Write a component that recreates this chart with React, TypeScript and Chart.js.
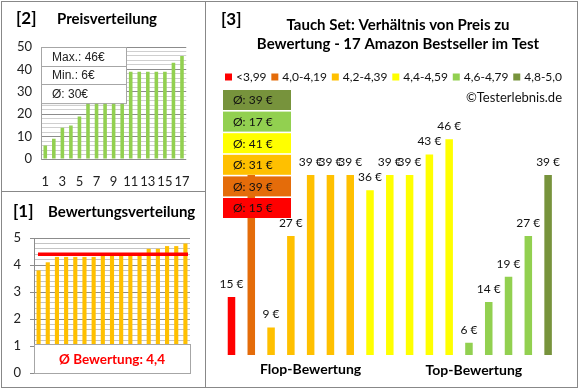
import React, { useEffect, useRef } from 'react';
import { Chart, registerables } from 'chart.js';
Chart.register(...registerables);

// ---------- data ----------
const PRODUCT_NUMBERS = ['1', '2', '3', '4', '5', '6', '7', '8', '9', '10', '11', '12', '13', '14', '15', '16', '17'];
// prices in the order of chart [3] (grouped by rating, ascending price)
const PRICES = [15, 39, 9, 27, 39, 39, 39, 36, 39, 39, 43, 46, 6, 14, 19, 27, 39];
// ratings in the same order
const RATINGS = [3.8, 4.1, 4.3, 4.3, 4.3, 4.3, 4.3, 4.4, 4.4, 4.4, 4.4, 4.4, 4.6, 4.6, 4.7, 4.7, 4.8];
const GROUP_LABELS = ['<3,99', '4,0-4,19', '4,2-4,39', '4,4-4,59', '4,6-4,79', '4,8-5,0'];
const GROUP_BOUNDS = [4.0, 4.2, 4.4, 4.6, 4.8];
const GROUP_COLORS = ['#FF0000', '#E46C0A', '#FFC000', '#FFFF00', '#92D050', '#77933C'];
const PRICE_TICK_LABELS = [0, 10, 20, 30, 40, 50];
const RATING_TICK_LABELS = [0, 1, 2, 3, 4, 5];
const FLOP_LABEL = 'Flop-Bewertung';
const TOP_LABEL = 'Top-Bewertung';

const FONT = 'Lato, "Liberation Sans", sans-serif';
const BOX_FONT = '"Liberation Sans", Arial, sans-serif';
const FRAME = '#888888';

const groupOf = (r: number) => GROUP_BOUNDS.filter((b) => r >= b - 1e-9).length;
const sortedPrices = [...PRICES].sort((a, b) => a - b);
const sortedRatings = [...RATINGS].sort((a, b) => a - b);
const mean = (a: number[]) => a.reduce((s, v) => s + v, 0) / a.length;
const isNear = (v: number, list: number[]) => list.some((t) => Math.abs(t - v) < 1e-6);

export default function App() {
  const refA = useRef<HTMLCanvasElement>(null);
  const refB = useRef<HTMLCanvasElement>(null);
  const refC = useRef<HTMLCanvasElement>(null);

  useEffect(() => {
    document.body.style.margin = '0';
    const charts: Chart[] = [];

    // ---------- [2] Preisverteilung ----------
    const maxP = Math.max(...PRICES);
    const minP = Math.min(...PRICES);
    const avgP = Math.round(mean(PRICES));
    const pluginA = {
      id: 'pA',
      afterDatasetsDraw(chart: any) {
        const c = chart.ctx;
        const { left, top } = chart.chartArea;
        const bw = 85;
        const rowH = 18.7;
        c.save();
        c.fillStyle = '#fff';
        c.fillRect(left, top, bw, rowH * 3);
        c.strokeStyle = '#a6a6a6';
        c.lineWidth = 1;
        c.strokeRect(left + 0.5, top + 0.5, bw, rowH * 3);
        c.beginPath();
        for (let i = 1; i < 3; i++) {
          c.moveTo(left, Math.round(top + rowH * i) + 0.5);
          c.lineTo(left + bw, Math.round(top + rowH * i) + 0.5);
        }
        c.stroke();
        c.fillStyle = '#222';
        c.font = `12px ${BOX_FONT}`;
        c.textBaseline = 'middle';
        const texts = [`Max.: ${maxP}€`, `Min.: ${minP}€`, `Ø: ${avgP}€`];
        texts.forEach((t, i) => c.fillText(t, left + 11, top + rowH * (i + 0.5) + 1));
        c.restore();
      },
      afterDraw(chart: any) {
        const c = chart.ctx;
        c.save();
        c.fillStyle = '#000';
        c.textBaseline = 'middle';
        c.font = `bold 17px ${FONT}`;
        c.fillText('[2]', 16, 19);
        c.font = `bold 15px ${FONT}`;
        c.fillText('Preisverteilung', 57, 19);
        c.restore();
      },
    };
    charts.push(
      new Chart(refA.current!, {
        type: 'bar',
        data: {
          labels: PRODUCT_NUMBERS,
          datasets: [{ data: sortedPrices, backgroundColor: '#92D050', barPercentage: 0.42, categoryPercentage: 1 }],
        },
        options: {
          animation: false,
          responsive: false,
          maintainAspectRatio: false,
          layout: { padding: { left: 0, top: 47, right: 16, bottom: 0 } },
          plugins: { legend: { display: false }, tooltip: { enabled: false } },
          scales: {
            x: {
              grid: { display: false, drawTicks: false },
              border: { display: false },
              ticks: {
                autoSkip: false,
                maxRotation: 0,
                padding: 15,
                font: { family: FONT, size: 13 },
                color: '#222',
                callback: (_v: any, i: number) => (i % 2 === 0 ? PRODUCT_NUMBERS[i] : ''),
              },
              afterFit: (s: any) => {
                s.height = 32;
              },
            },
            y: {
              min: 0,
              max: 50,
              ticks: {
                stepSize: 2,
                autoSkip: false,
                padding: 9,
                font: { family: FONT, size: 13 },
                color: '#222',
                callback: (v: any) => (isNear(Number(v), PRICE_TICK_LABELS) ? String(Math.round(Number(v))) : ''),
              },
              grid: {
                drawTicks: false,
                color: (ctx: any) => (isNear(ctx.tick.value, PRICE_TICK_LABELS) ? '#8c8c8c' : '#cfcfcf'),
              },
              border: { display: true, color: '#a0a0a0' },
              afterFit: (s: any) => {
                s.width = 41;
              },
            },
          },
        },
        plugins: [pluginA],
      } as any)
    );

    // ---------- [1] Bewertungsverteilung ----------
    const avgR = mean(RATINGS);
    const avgRText = avgR.toFixed(1).replace('.', ',');
    const pluginB = {
      id: 'pB',
      afterDatasetsDraw(chart: any) {
        const c = chart.ctx;
        const { left, right } = chart.chartArea;
        const y = chart.scales.y;
        c.save();
        const ya = y.getPixelForValue(avgR);
        c.strokeStyle = '#FF0000';
        c.lineWidth = 3.5;
        c.beginPath();
        c.moveTo(left + 4, ya);
        c.lineTo(right - 2, ya);
        c.stroke();
        const bt = Math.round(y.getPixelForValue(1)) - 2;
        const bb = Math.round(y.getPixelForValue(0));
        c.fillStyle = '#fff';
        c.fillRect(left, bt, right - left, bb - bt);
        c.strokeStyle = '#a6a6a6';
        c.lineWidth = 1;
        c.strokeRect(left + 0.5, bt + 0.5, right - left, bb - bt);
        c.fillStyle = '#FF0000';
        c.font = `bold 13.5px ${FONT}`;
        c.textAlign = 'center';
        c.textBaseline = 'middle';
        c.fillText(`Ø Bewertung: ${avgRText}`, (left + right) / 2, (bt + bb) / 2 + 1);
        c.restore();
      },
      afterDraw(chart: any) {
        const c = chart.ctx;
        c.save();
        c.fillStyle = '#000';
        c.textBaseline = 'middle';
        c.font = `bold 17px ${FONT}`;
        c.fillText('[1]', 13, 21);
        c.font = `bold 15px ${FONT}`;
        c.fillText('Bewertungsverteilung', 48, 21);
        c.restore();
      },
    };
    charts.push(
      new Chart(refB.current!, {
        type: 'bar',
        data: {
          labels: PRODUCT_NUMBERS,
          datasets: [{ data: sortedRatings, backgroundColor: '#FFC000', barPercentage: 0.45, categoryPercentage: 1 }],
        },
        options: {
          animation: false,
          responsive: false,
          maintainAspectRatio: false,
          layout: { padding: { left: 0, top: 47, right: 15, bottom: 17 } },
          plugins: { legend: { display: false }, tooltip: { enabled: false } },
          scales: {
            x: { display: false },
            y: {
              min: 0,
              max: 5,
              ticks: {
                stepSize: 0.2,
                autoSkip: false,
                padding: 9,
                font: { family: FONT, size: 13 },
                color: '#222',
                callback: (v: any) => (isNear(Number(v), RATING_TICK_LABELS) ? String(Math.round(Number(v))) : ''),
              },
              grid: {
                drawTicks: true,
                tickLength: 4,
                tickColor: (ctx: any) => (isNear(ctx.tick.value, RATING_TICK_LABELS) ? '#8c8c8c' : 'rgba(0,0,0,0)'),
                color: (ctx: any) => (isNear(ctx.tick.value, RATING_TICK_LABELS) ? '#8c8c8c' : '#c4c4c4'),
              },
              border: { display: true, color: '#8c8c8c' },
              afterFit: (s: any) => {
                s.width = 34;
              },
            },
          },
        },
        plugins: [pluginB],
      } as any)
    );

    // ---------- [3] Verhältnis Preis / Bewertung ----------
    const groups = RATINGS.map(groupOf);
    const groupAvgs = GROUP_LABELS.map((_, g) => {
      const vals = PRICES.filter((_, i) => groups[i] === g);
      return vals.length ? Math.round(mean(vals)) : 0;
    });
    const pluginC = {
      id: 'pC',
      afterDatasetsDraw(chart: any) {
        const c = chart.ctx;
        const meta = chart.getDatasetMeta(0);
        c.save();
        c.fillStyle = '#111';
        c.font = `12px ${FONT}`;
        c.textAlign = 'center';
        c.textBaseline = 'middle';
        meta.data.forEach((el: any, i: number) => {
          c.fillText(`${PRICES[i]} €`, el.x, el.y - 13);
        });
        // axis group labels
        c.font = `bold 14px ${FONT}`;
        c.fillStyle = '#000';
        const xFlop = meta.data[4].x;
        const xTop = meta.data[12].x + 0.25 * (meta.data[13].x - meta.data[12].x);
        c.fillText(FLOP_LABEL, xFlop, 369);
        c.fillText(TOP_LABEL, xTop, 370);
        c.restore();
      },
      afterDraw(chart: any) {
        const c = chart.ctx;
        c.save();
        c.fillStyle = '#000';
        c.textBaseline = 'middle';
        c.font = `bold 17px ${FONT}`;
        c.fillText('[3]', 16, 20);
        c.font = `bold 15px ${FONT}`;
        c.textAlign = 'center';
        c.fillText('Tauch Set: Verhältnis von Preis zu', 193, 25);
        c.fillText('Bewertung - 17 Amazon Bestseller im Test', 193, 44);
        // legend
        c.textAlign = 'left';
        c.font = `12px ${FONT}`;
        const sq = 7;
        const gapT = 4;
        const widths = GROUP_LABELS.map((l) => sq + gapT + c.measureText(l).width);
        const startX = 20;
        const endX = 357;
        const gap = (endX - startX - widths.reduce((s, w) => s + w, 0)) / (GROUP_LABELS.length - 1);
        let x = startX;
        GROUP_LABELS.forEach((l, i) => {
          c.fillStyle = GROUP_COLORS[i];
          c.fillRect(x, 77 - sq / 2, sq, sq);
          c.fillStyle = '#111';
          c.fillText(l, x + sq + gapT, 77);
          x += widths[i] + gap;
        });
        // copyright
        c.textAlign = 'right';
        c.font = `13px ${FONT}`;
        c.fillText('©Testerlebnis.de', 357, 98);
        // average boxes
        c.textAlign = 'left';
        c.font = `12px ${FONT}`;
        const order = [5, 4, 3, 2, 1, 0];
        order.forEach((g, k) => {
          const by = 90 + k * 21.6;
          c.fillStyle = GROUP_COLORS[g];
          c.fillRect(18, by, 68, 20);
          c.fillStyle = '#111';
          c.fillText(`Ø: ${groupAvgs[g]} €`, 28, by + 10.5);
        });
        c.restore();
      },
    };
    charts.push(
      new Chart(refC.current!, {
        type: 'bar',
        data: {
          labels: PRODUCT_NUMBERS,
          datasets: [
            {
              data: PRICES,
              backgroundColor: groups.map((g) => GROUP_COLORS[g]),
              barPercentage: 0.38,
              categoryPercentage: 1,
            },
          ],
        },
        options: {
          animation: false,
          responsive: false,
          maintainAspectRatio: false,
          layout: { padding: { left: 16.6, top: 119, right: 22, bottom: 35 } },
          plugins: { legend: { display: false }, tooltip: { enabled: false } },
          scales: {
            x: { display: false },
            y: { display: false, min: 3.6, max: 50 },
          },
        },
        plugins: [pluginC],
      } as any)
    );

    return () => charts.forEach((ch) => ch.destroy());
  }, []);

  const line = (l: number, t: number, w: number, h: number) => (
    <div style={{ position: 'absolute', left: l, top: t, width: w, height: h, background: FRAME, zIndex: 2 }} />
  );

  return (
    <div style={{ position: 'absolute', left: 0, top: 0, width: 580, height: 390, background: '#fff', overflow: 'hidden' }}>
      <canvas ref={refA} width={205} height={191} style={{ position: 'absolute', left: 0, top: 0, width: 205, height: 191 }} />
      <canvas ref={refB} width={205} height={199} style={{ position: 'absolute', left: 0, top: 191, width: 205, height: 199 }} />
      <canvas ref={refC} width={375} height={390} style={{ position: 'absolute', left: 205, top: 0, width: 375, height: 390 }} />
      {line(1, 1, 577, 1)}
      {line(1, 387, 577, 1)}
      {line(1, 1, 1, 387)}
      {line(577, 1, 1, 387)}
      {line(205, 1, 1, 387)}
      {line(1, 191, 205, 1)}
    </div>
  );
}
